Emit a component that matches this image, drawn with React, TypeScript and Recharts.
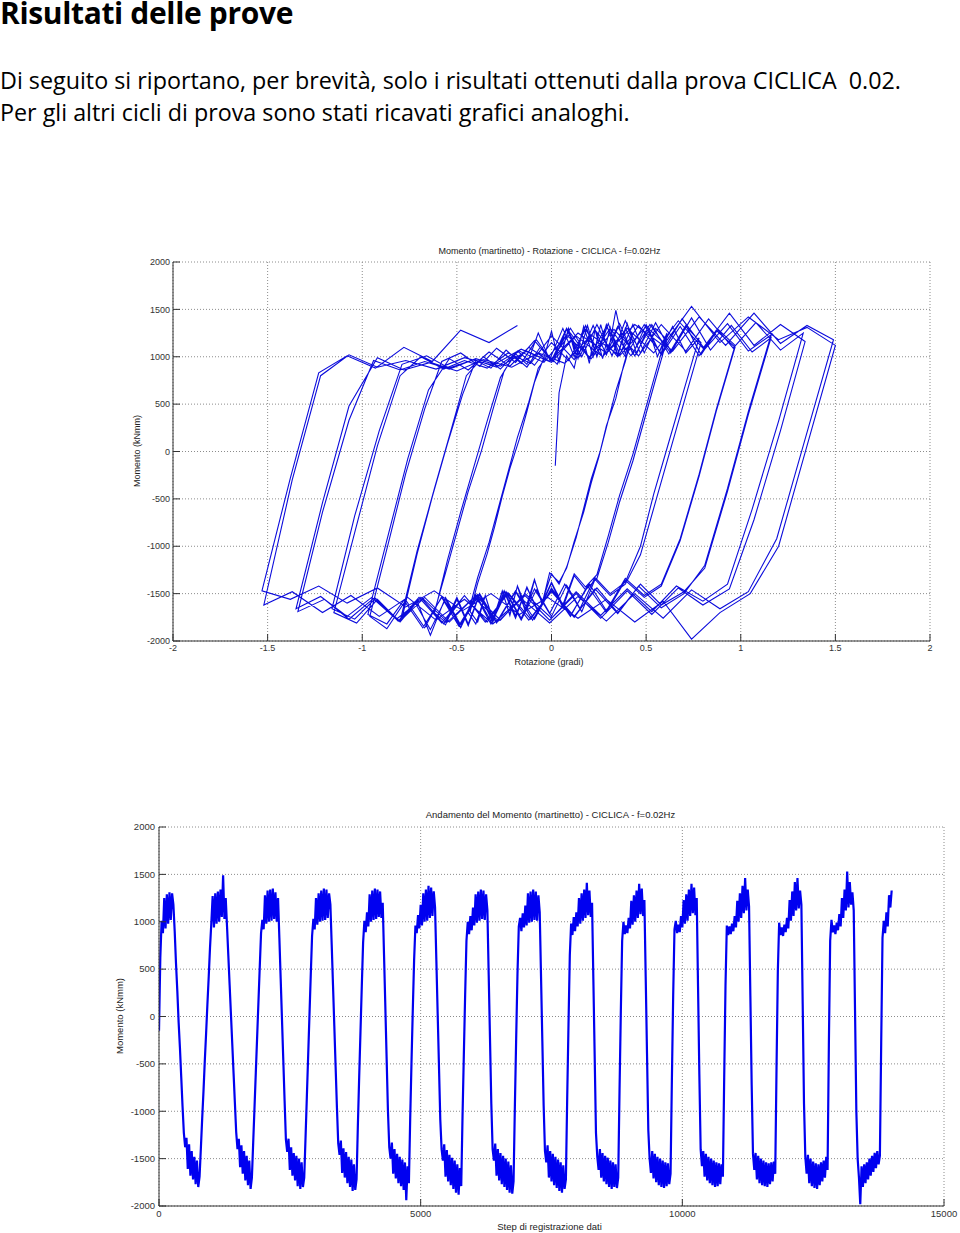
import { LineChart, Line, XAxis, YAxis, CartesianGrid } from "recharts";

// one sample every 25 recording steps, 14 cycles at 0.02 Hz
const STEP_INTERVAL = 25;

// rotazione (gradi), one row per cycle
const rotazione = [
  0.02, 0.04, 0.08, 0.12, 0.16, 0.2, 0.23, 0.27, 0.31, 0.35, 0.39, 0.42, 0.38, 0.34, 0.29, 0.25, 0.21, 0.17, 0.12, 0.08, 0.04, -0.01, -0.05, -0.09, -0.14, -0.18, -0.22, -0.26, -0.31, -0.35, -0.39, -0.43, -0.39, -0.34, -0.3, -0.26, -0.22, -0.17, -0.13, -0.09,
  -0.04, 0.0, 0.04, 0.09, 0.13, 0.17, 0.22, 0.26, 0.3, 0.34, 0.39, 0.43, 0.39, 0.34, 0.3, 0.26, 0.21, 0.17, 0.13, 0.08, 0.04, 0.0, -0.05, -0.09, -0.13, -0.18, -0.22, -0.26, -0.31, -0.35, -0.4, -0.44, -0.39, -0.33, -0.28, -0.23, -0.18, -0.12, -0.07, -0.02,
  0.03, 0.09, 0.14, 0.19, 0.24, 0.29, 0.35, 0.4, 0.45, 0.51, 0.56, 0.61, 0.55, 0.49, 0.43, 0.36, 0.3, 0.24, 0.18, 0.12, 0.06, 0.0, -0.07, -0.13, -0.19, -0.25, -0.31, -0.38, -0.44, -0.5, -0.56, -0.62, -0.56, -0.5, -0.44, -0.37, -0.31, -0.25, -0.19, -0.13,
  -0.07, -0.01, 0.06, 0.12, 0.18, 0.24, 0.3, 0.36, 0.43, 0.49, 0.55, 0.61, 0.55, 0.49, 0.43, 0.36, 0.3, 0.24, 0.18, 0.12, 0.06, 0.0, -0.07, -0.13, -0.19, -0.25, -0.31, -0.38, -0.44, -0.5, -0.56, -0.62, -0.55, -0.48, -0.41, -0.34, -0.27, -0.2, -0.13, -0.06,
  0.01, 0.08, 0.15, 0.22, 0.29, 0.36, 0.43, 0.5, 0.57, 0.64, 0.71, 0.78, 0.7, 0.62, 0.54, 0.47, 0.39, 0.31, 0.23, 0.15, 0.07, -0.01, -0.09, -0.16, -0.24, -0.32, -0.4, -0.48, -0.56, -0.64, -0.71, -0.79, -0.71, -0.63, -0.55, -0.47, -0.4, -0.32, -0.24, -0.16,
  -0.08, 0.0, 0.08, 0.16, 0.24, 0.32, 0.39, 0.47, 0.55, 0.63, 0.71, 0.79, 0.71, 0.63, 0.55, 0.47, 0.39, 0.31, 0.23, 0.16, 0.08, 0.0, -0.08, -0.16, -0.24, -0.32, -0.4, -0.48, -0.56, -0.64, -0.72, -0.8, -0.71, -0.62, -0.53, -0.45, -0.36, -0.27, -0.18, -0.09,
  0.0, 0.09, 0.18, 0.27, 0.35, 0.44, 0.53, 0.62, 0.71, 0.79, 0.88, 0.97, 0.87, 0.78, 0.68, 0.58, 0.49, 0.39, 0.29, 0.2, 0.1, 0.0, -0.09, -0.19, -0.29, -0.38, -0.48, -0.58, -0.67, -0.77, -0.87, -0.96, -0.86, -0.77, -0.67, -0.58, -0.48, -0.38, -0.29, -0.19,
  -0.09, 0.0, 0.1, 0.2, 0.29, 0.39, 0.49, 0.58, 0.68, 0.78, 0.87, 0.97, 0.87, 0.78, 0.68, 0.58, 0.49, 0.39, 0.29, 0.19, 0.1, 0.0, -0.1, -0.19, -0.29, -0.39, -0.49, -0.58, -0.68, -0.78, -0.87, -0.97, -0.86, -0.76, -0.65, -0.54, -0.44, -0.33, -0.22, -0.12,
  -0.01, 0.1, 0.2, 0.31, 0.42, 0.52, 0.63, 0.74, 0.84, 0.95, 1.06, 1.16, 1.04, 0.93, 0.81, 0.7, 0.58, 0.47, 0.35, 0.24, 0.12, 0.0, -0.11, -0.23, -0.34, -0.46, -0.57, -0.69, -0.8, -0.92, -1.03, -1.15, -1.03, -0.92, -0.8, -0.69, -0.57, -0.46, -0.34, -0.23,
  -0.11, 0.0, 0.12, 0.23, 0.35, 0.46, 0.58, 0.69, 0.81, 0.93, 1.04, 1.16, 1.04, 0.93, 0.81, 0.7, 0.58, 0.46, 0.35, 0.23, 0.12, 0.0, -0.12, -0.23, -0.35, -0.46, -0.58, -0.7, -0.81, -0.93, -1.04, -1.16, -1.04, -0.91, -0.79, -0.66, -0.54, -0.41, -0.29, -0.17,
  -0.04, 0.08, 0.21, 0.33, 0.46, 0.58, 0.71, 0.83, 0.96, 1.08, 1.21, 1.33, 1.2, 1.06, 0.93, 0.8, 0.66, 0.53, 0.4, 0.26, 0.13, 0.0, -0.14, -0.27, -0.4, -0.54, -0.67, -0.8, -0.94, -1.07, -1.2, -1.34, -1.21, -1.07, -0.94, -0.8, -0.67, -0.54, -0.4, -0.27,
  -0.13, 0.0, 0.13, 0.27, 0.4, 0.54, 0.67, 0.8, 0.94, 1.07, 1.21, 1.34, 1.21, 1.07, 0.94, 0.8, 0.67, 0.53, 0.4, 0.26, 0.13, -0.01, -0.14, -0.28, -0.41, -0.55, -0.68, -0.82, -0.95, -1.08, -1.22, -1.35, -1.21, -1.07, -0.92, -0.78, -0.64, -0.5, -0.36, -0.21,
  -0.07, 0.07, 0.21, 0.36, 0.5, 0.64, 0.78, 0.92, 1.07, 1.21, 1.35, 1.49, 1.34, 1.19, 1.04, 0.89, 0.74, 0.59, 0.44, 0.29, 0.14, -0.01, -0.16, -0.31, -0.46, -0.61, -0.76, -0.91, -1.06, -1.21, -1.37, -1.52, -1.37, -1.22, -1.07, -0.92, -0.77, -0.61, -0.46, -0.31,
  -0.16, -0.01, 0.14, 0.29, 0.44, 0.59, 0.74, 0.89, 1.04, 1.2, 1.35, 1.5, 1.35, 1.2, 1.05, 0.89, 0.74, 0.59, 0.44, 0.29, 0.14, -0.02, -0.17, -0.32, -0.47, -0.62, -0.77, -0.92, -1.08, -1.23, -1.38, -1.53, -1.38, -1.23, -1.08, -0.93, -0.78, -0.63, -0.48, -0.33,
  -0.18,
];

// momento (kNmm), same samples
const momento = [
  -150, 620, 1010, 880, 1250, 930, 1290, 980, 1310, 1020, 1300, 1180, 900, 560, 270, -60, -330, -640, -950, -1230, -1380, -1280, -1610, -1350, -1680, -1420, -1720, -1480, -1770, -1520, -1800, -1690, -1390, -1080, -790, -470, -180, 130, 420, 730,
  990, 1270, 940, 1300, 980, 1320, 1000, 1340, 1050, 1490, 1030, 1250, 950, 640, 330, 20, -290, -600, -910, -1220, -1400, -1290, -1590, -1360, -1660, -1420, -1730, -1470, -1780, -1520, -1820, -1700, -1330, -960, -590, -220, 150, 520, 880, 1020,
  920, 1280, 980, 1330, 1000, 1340, 1010, 1350, 1030, 1310, 1000, 1250, 830, 400, -30, -460, -890, -1300, -1430, -1290, -1620, -1380, -1680, -1440, -1730, -1470, -1790, -1500, -1820, -1540, -1800, -1700, -1280, -850, -420, 10, 440, 850, 1030, 920,
  1250, 970, 1300, 1000, 1330, 1010, 1350, 1020, 1340, 1040, 1300, 1180, 760, 330, -100, -530, -960, -1340, -1460, -1310, -1650, -1390, -1700, -1430, -1760, -1480, -1800, -1510, -1840, -1560, -1830, -1720, -1150, -640, -160, 320, 780, 1010, 890, 1100,
  950, 1290, 1000, 1330, 1020, 1350, 1030, 1340, 1050, 1320, 1040, 1200, 650, 100, -450, -1000, -1380, -1500, -1330, -1660, -1400, -1710, -1450, -1760, -1480, -1790, -1510, -1830, -1540, -1940, -1580, -1760, -1080, -480, 80, 600, 960, 880, 1070, 930,
  1180, 960, 1300, 1000, 1340, 1010, 1380, 1040, 1360, 1060, 1320, 1150, 590, 30, -530, -1090, -1400, -1520, -1350, -1690, -1410, -1740, -1460, -1780, -1490, -1820, -1520, -1860, -1560, -1880, -1600, -1790, -1050, -400, 230, 800, 1000, 870, 1060, 910,
  1150, 960, 1290, 990, 1320, 1010, 1340, 1030, 1330, 1020, 1290, 1120, 440, -240, -920, -1400, -1520, -1340, -1680, -1400, -1730, -1440, -1770, -1470, -1800, -1500, -1830, -1530, -1860, -1570, -1870, -1740, -950, -230, 450, 950, 1040, 900, 1090, 940,
  1170, 960, 1300, 990, 1320, 1000, 1340, 1020, 1320, 1010, 1280, 1100, 420, -260, -940, -1420, -1540, -1360, -1700, -1420, -1740, -1450, -1780, -1480, -1810, -1510, -1840, -1540, -1860, -1570, -1820, -1720, -860, -80, 650, 980, 860, 1050, 900, 1100,
  950, 1250, 980, 1300, 1010, 1340, 1040, 1410, 1070, 1330, 1050, 1200, 390, -420, -1230, -1480, -1620, -1400, -1700, -1440, -1740, -1470, -1770, -1490, -1800, -1520, -1820, -1540, -1800, -1560, -1810, -1700, -780, 60, 800, 1000, 870, 960, 880, 1040,
  930, 1220, 970, 1280, 1000, 1330, 1040, 1400, 1080, 1350, 1060, 1230, 420, -390, -1200, -1500, -1650, -1420, -1710, -1450, -1750, -1480, -1780, -1500, -1800, -1520, -1810, -1540, -1790, -1550, -1770, -1660, -680, 220, 920, 1010, 880, 970, 890, 1060,
  940, 1230, 980, 1290, 1010, 1340, 1060, 1400, 1090, 1360, 1070, 1250, 320, -610, -1400, -1580, -1420, -1690, -1450, -1730, -1480, -1760, -1500, -1780, -1520, -1800, -1540, -1790, -1550, -1770, -1560, -1690, -640, 330, 960, 860, 950, 870, 980, 900,
  1060, 940, 1220, 1000, 1300, 1040, 1380, 1090, 1460, 1120, 1340, 1160, 220, -720, -1450, -1620, -1440, -1720, -1470, -1760, -1500, -1780, -1520, -1790, -1540, -1800, -1550, -1770, -1540, -1740, -1530, -1660, -540, 480, 990, 860, 940, 850, 970, 890,
  1040, 930, 1230, 1010, 1320, 1060, 1420, 1120, 1460, 1140, 1330, 1180, 130, -920, -1480, -1660, -1460, -1760, -1500, -1790, -1530, -1810, -1550, -1820, -1560, -1780, -1540, -1740, -1520, -1700, -1480, -1620, -300, 800, 1020, 890, 960, 870, 990, 910,
  1080, 950, 1250, 1040, 1340, 1120, 1530, 1150, 1420, 1180, 1310, 1120, 60, -1000, -1500, -1700, -1980, -1580, -1800, -1560, -1760, -1540, -1720, -1500, -1680, -1470, -1640, -1440, -1600, -1420, -1560, -1470, -280, 830, 1010, 880, 1100, 950, 1280, 1150,
  1330,
];

const ROT_TICKS = [-2, -1.5, -1, -0.5, 0, 0.5, 1, 1.5, 2];
const MOM_TICKS = [-2000, -1500, -1000, -500, 0, 500, 1000, 1500, 2000];
const STEP_TICKS = [0, 5000, 10000, 15000];

const campioni = momento.map((m, i) => ({ step: i * STEP_INTERVAL, rot: rotazione[i], mom: m }));

const PAGE_FONT = "'Open Sans', 'Noto Sans', sans-serif";
const PLOT_FONT = "'Liberation Sans', Arial, sans-serif";
const AXIS = "#333";
const GRID = "#8c8c8c";

function PlotText({ x, y, text, size = 9, rotate = false }: { x: number; y: number; text: string; size?: number; rotate?: boolean }) {
  return (
    <div
      style={{
        position: "absolute",
        left: x - 200,
        top: y - 6,
        width: 400,
        height: 12,
        lineHeight: "12px",
        textAlign: "center",
        fontFamily: PLOT_FONT,
        fontSize: size,
        color: "#222",
        whiteSpace: "nowrap",
        transform: rotate ? "rotate(-90deg)" : undefined,
      }}
    >
      {text}
    </div>
  );
}

export default function App() {
  const tick1 = { fontSize: 9, fill: "#333", fontFamily: PLOT_FONT };
  const tick2 = { fontSize: 9.5, fill: "#333", fontFamily: PLOT_FONT };
  const body = { position: "absolute" as const, left: 0, fontFamily: PAGE_FONT, fontSize: 23.3, lineHeight: "32px", whiteSpace: "pre" as const };
  return (
    <div style={{ position: "absolute", left: 0, top: 0, width: 960, height: 1233, background: "#fff", overflow: "hidden" }}>
      <div style={{ position: "absolute", left: 0, top: 0, fontFamily: PAGE_FONT, fontWeight: 700, fontSize: 30, letterSpacing: -0.35, lineHeight: "26px", whiteSpace: "nowrap" }}>
        Risultati delle prove
      </div>
      <div style={{ ...body, top: 64.3 }}>
        Di seguito si riportano, per brevità, solo i risultati ottenuti dalla prova CICLICA  0.02.
      </div>
      <div style={{ ...body, top: 95.6 }}>
        Per gli altri cicli di prova sono stati ricavati grafici analoghi.
      </div>

      {/* Momento - Rotazione */}
      <div style={{ position: "absolute", left: 0, top: 230 }}>
        <LineChart width={960} height={450} data={campioni} margin={{ top: 32, right: 30, left: 133, bottom: 9 }}>
          <CartesianGrid stroke={GRID} strokeDasharray="1 2" />
          <XAxis type="number" dataKey="rot" domain={[-2, 2]} ticks={ROT_TICKS} interval={0} height={30}
            stroke={AXIS} tickSize={-7} tickMargin={11} tick={tick1} allowDataOverflow />
          <YAxis type="number" domain={[-2000, 2000]} ticks={MOM_TICKS} interval={0} width={40}
            stroke={AXIS} tickSize={-7} tickMargin={10} tick={tick1} allowDataOverflow />
          <Line type="linear" dataKey="mom" stroke="#0c0cdc" strokeWidth={1.1} dot={false} isAnimationActive={false} />
        </LineChart>
      </div>
      <PlotText x={549.5} y={251} text="Momento (martinetto) - Rotazione - CICLICA - f=0.02Hz" />
      <PlotText x={549} y={662} text="Rotazione (gradi)" />
      <PlotText x={137} y={451} text="Momento (kNmm)" rotate />

      {/* Andamento del momento */}
      <div style={{ position: "absolute", left: 0, top: 790 }}>
        <LineChart width={960} height={443} data={campioni} margin={{ top: 37, right: 16, left: 119, bottom: 7 }}>
          <CartesianGrid stroke={GRID} strokeDasharray="1 2" />
          <XAxis type="number" dataKey="step" domain={[0, 15000]} ticks={STEP_TICKS} interval={0} height={20}
            stroke={AXIS} tickSize={-7} tickMargin={11} tick={tick2} allowDataOverflow />
          <YAxis type="number" domain={[-2000, 2000]} ticks={MOM_TICKS} interval={0} width={40}
            stroke={AXIS} tickSize={-7} tickMargin={11} tick={tick2} allowDataOverflow />
          <XAxis xAxisId="box" orientation="top" type="number" domain={[0, 15000]} ticks={STEP_TICKS} interval={0}
            height={0} stroke={AXIS} tickSize={-7} tick={false} />
          <YAxis yAxisId="box" orientation="right" type="number" domain={[-2000, 2000]} ticks={MOM_TICKS} interval={0}
            width={0} stroke={AXIS} tickSize={-7} tick={false} />
          <Line type="linear" dataKey="mom" stroke="#0000f0" strokeWidth={2.2} dot={false} isAnimationActive={false} />
        </LineChart>
      </div>
      <PlotText x={550.5} y={815} text="Andamento del Momento (martinetto) - CICLICA - f=0.02Hz" size={9.5} />
      <PlotText x={549.5} y={1227} text="Step di registrazione dati" size={9.5} />
      <PlotText x={120} y={1016} text="Momento (kNmm)" size={9.5} rotate />
    </div>
  );
}
